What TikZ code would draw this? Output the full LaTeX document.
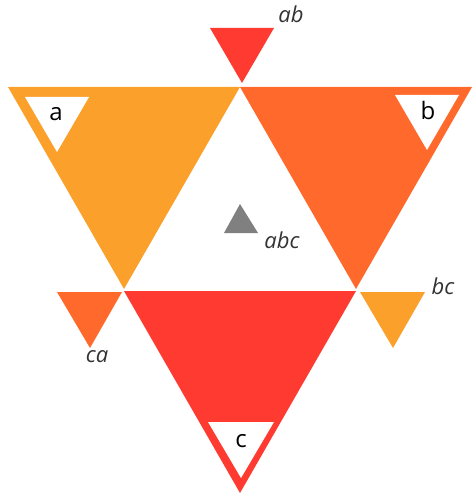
\documentclass[tikz,border=0pt]{standalone}
\usepackage{fontspec}
\setmainfont{Open Sans}
\definecolor{setA}{HTML}{FBA02B}
\definecolor{setB}{HTML}{FF6A2C}
\definecolor{setC}{HTML}{FF3A30}

\begin{document}
\begin{tikzpicture}[x=1pt, y=-1pt,
    big/.style={font=\fontsize{24}{26}\selectfont},
    small/.style={font=\itshape\fontsize{22}{24}\selectfont, text=black!80}]
    \useasboundingbox (0,0) rectangle (472,497);

    % the three sets
    \fill[setA] (8,87) -- (240,87) -- (124,289) -- cycle;
    \fill[setB] (240,87) -- (472,87) -- (356,289) -- cycle;
    \fill[setC] (124,291) -- (356,291) -- (240,493) -- cycle;

    % white marks inside
    \fill[white] (25,97) -- (89,97) -- (57,152) -- cycle;
    \node[big] (la) at (56,114) {a};
    \fill[white] (395,95) -- (459,95) -- (427,150) -- cycle;
    \node[big] (lb) at (428,111) {b};
    \fill[white] (208,422) -- (274,422) -- (241,478) -- cycle;
    \node[big] (lc) at (241,441) {c};

    % pairs
    \fill[setC] (210,28) -- (274,28) -- (242,83) -- cycle;
    \node[small] (lab) at (291,14) {ab};
    \fill[setB] (57,292) -- (122,292) -- (90,348) -- cycle;
    \node[small] (lca) at (97,357) {ca};
    \fill[setA] (360,292) -- (425,292) -- (393,348) -- cycle;
    \node[small] (lbc) at (443,286) {bc};

    % all three
    \fill[gray] (240,204) -- (258,233) -- (224,233) -- cycle;
    \node[small] (labc) at (282,240) {abc};

\end{tikzpicture}
\end{document}
